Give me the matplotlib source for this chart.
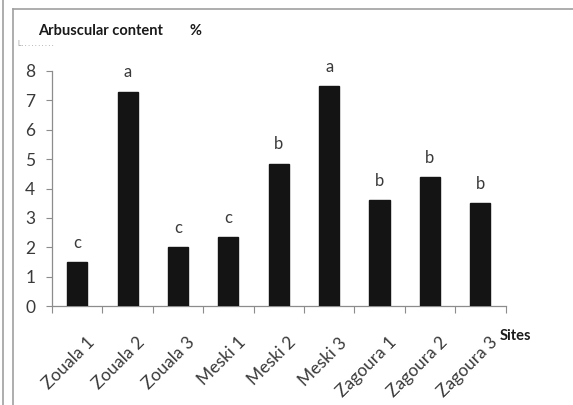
"""
plot.py — arbuscular content (%) per sampling site, with significance letters.
Output: out.png
"""

import matplotlib.pyplot as plt
import matplotlib.transforms as mtransforms
from matplotlib.lines import Line2D

# ── data ──────────────────────────────────────────────────────────────────────

SITES   = ["Zouala 1", "Zouala 2", "Zouala 3",
           "Meski 1", "Meski 2", "Meski 3",
           "Zagoura 1", "Zagoura 2", "Zagoura 3"]
CONTENT = [1.5, 7.3, 2.0, 2.35, 4.85, 7.5, 3.6, 4.4, 3.5]
LETTERS = ["c", "a", "c", "c", "b", "a", "b", "b", "b"]
Y_TICKS = [0, 1, 2, 3, 4, 5, 6, 7, 8]

FONT      = ["Lato", "DejaVu Sans"]
AXIS_GREY = "#8c8c8c"
TEXT_GREY = "#3a3a3a"

plt.rcParams["font.family"] = FONT

fig = plt.figure(figsize=(5.73, 4.05), dpi=100)
ax = fig.add_axes([0.0908, 0.2444, 0.7915, 0.5803])

x = list(range(len(SITES)))
ax.bar(x, CONTENT, width=0.4, color="#141414", edgecolor="#141414", zorder=3)

for xi, val, letter in zip(x, CONTENT, LETTERS):
    ax.annotate(letter, (xi, val), xytext=(0, 8), textcoords="offset points",
                ha="center", va="bottom", fontsize=12, color=TEXT_GREY)

ax.set_xlim(-0.5, len(SITES) - 0.5)
ax.set_ylim(0, 8)
ax.set_yticks(Y_TICKS)
ax.tick_params(axis="y", direction="out", length=4, width=0.8, color=AXIS_GREY,
               labelsize=12.5, labelcolor=TEXT_GREY, pad=8)

# x ticks sit on the category boundaries, labels on the bar centres
ax.set_xticks([i - 0.5 for i in range(len(SITES) + 1)])
ax.set_xticklabels([])
ax.set_xticks(x, minor=True)
ax.set_xticklabels(SITES, minor=True, rotation=45, ha="right", va="top",
                   rotation_mode="anchor", fontsize=12.5, color=TEXT_GREY)
ax.tick_params(axis="x", which="major", direction="out", length=5, width=0.8,
               color=AXIS_GREY)
ax.tick_params(axis="x", which="minor", length=0, pad=14)

# nudge the slanted labels right and down
shift = mtransforms.ScaledTranslation(0.09, -0.09, fig.dpi_scale_trans)
for lbl in ax.get_xticklabels(minor=True):
    lbl.set_transform(lbl.get_transform() + shift)

for side in ("top", "right"):
    ax.spines[side].set_visible(False)
for side in ("left", "bottom"):
    ax.spines[side].set_color(AXIS_GREY)
    ax.spines[side].set_linewidth(0.9)

# titles
fig.text(38 / 573, 1 - 31 / 405, "Arbuscular content", fontsize=10.5,
         fontweight="bold", color="#1a1a1a", va="center", ha="left")
fig.text(190 / 573, 1 - 31 / 405, "%", fontsize=10.5, fontweight="bold",
         color="#1a1a1a", va="center", ha="left")
fig.text(18 / 573, 1 - 43 / 405, "L. . . . . . . . . .", fontsize=5,
         color="#9a9a9a", va="center", ha="left")
fig.text(500 / 573, 1 - 336 / 405, "Sites", fontsize=10.5, fontweight="bold",
         color="#1a1a1a", va="center", ha="left")

# surrounding frame
frame = dict(color="#a0a0a0", linewidth=1.2, transform=fig.transFigure)
fig.add_artist(Line2D([3 / 573, 3 / 573], [0, 1], **frame))
fig.add_artist(Line2D([13 / 573, 13 / 573], [0, 1 - 9 / 405], **frame))
fig.add_artist(Line2D([13 / 573, 1], [1 - 9 / 405, 1 - 9 / 405], **frame))

fig.savefig("out.png", dpi=100)
plt.close(fig)
